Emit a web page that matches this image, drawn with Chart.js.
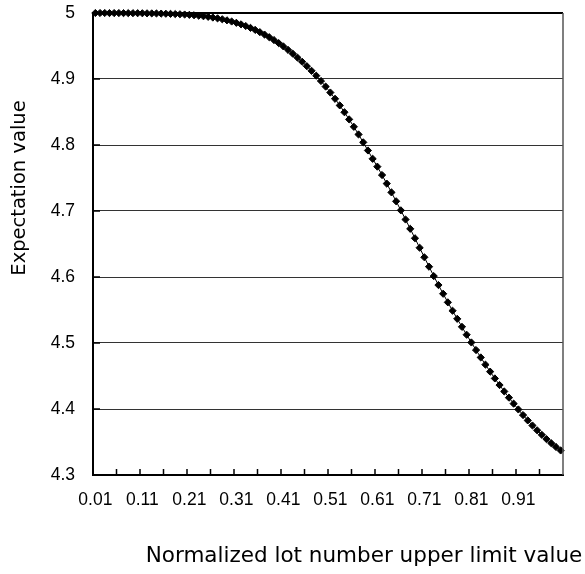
<!DOCTYPE html>
<html>
<head>
<meta charset="utf-8">
<script src="https://cdn.jsdelivr.net/npm/chart.js"></script>
<style>
  html, body { margin: 0; padding: 0; background: #fff; }
  canvas { display: block; }
</style>
</head>
<body>
<canvas id="myChart" width="585" height="574"></canvas>
<script>
const categories = [
  "0.01","0.02","0.03","0.04","0.05","0.06","0.07","0.08","0.09","0.10",
  "0.11","0.12","0.13","0.14","0.15","0.16","0.17","0.18","0.19","0.20",
  "0.21","0.22","0.23","0.24","0.25","0.26","0.27","0.28","0.29","0.30",
  "0.31","0.32","0.33","0.34","0.35","0.36","0.37","0.38","0.39","0.40",
  "0.41","0.42","0.43","0.44","0.45","0.46","0.47","0.48","0.49","0.50",
  "0.51","0.52","0.53","0.54","0.55","0.56","0.57","0.58","0.59","0.60",
  "0.61","0.62","0.63","0.64","0.65","0.66","0.67","0.68","0.69","0.70",
  "0.71","0.72","0.73","0.74","0.75","0.76","0.77","0.78","0.79","0.80",
  "0.81","0.82","0.83","0.84","0.85","0.86","0.87","0.88","0.89","0.90",
  "0.91","0.92","0.93","0.94","0.95","0.96","0.97","0.98","0.99","1.00"
];

const expectation = [
  5.0000, 5.0000, 5.0000, 4.9999, 4.9999, 4.9999, 4.9998, 4.9998, 4.9997, 4.9997,
  4.9996, 4.9995, 4.9994, 4.9993, 4.9991, 4.9989, 4.9987, 4.9984, 4.9981, 4.9977,
  4.9972, 4.9966, 4.9959, 4.9951, 4.9942, 4.9931, 4.9919, 4.9905, 4.9889, 4.9871,
  4.9851, 4.9828, 4.9803, 4.9775, 4.9744, 4.9710, 4.9673, 4.9633, 4.9590, 4.9544,
  4.9494, 4.9441, 4.9384, 4.9324, 4.9261, 4.9194, 4.9124, 4.9050, 4.8970, 4.8885,
  4.8795, 4.8700, 4.8600, 4.8496, 4.8388, 4.8276, 4.8160, 4.8040, 4.7917, 4.7791,
  4.7672, 4.7545, 4.7415, 4.7282, 4.7147, 4.7010, 4.6871, 4.6730, 4.6587, 4.6443,
  4.6299, 4.6156, 4.6014, 4.5878, 4.5746, 4.5616, 4.5489, 4.5366, 4.5245, 4.5125,
  4.5008, 4.4893, 4.4781, 4.4672, 4.4566, 4.4463, 4.4363, 4.4266, 4.4172, 4.4081,
  4.3993, 4.3908, 4.3827, 4.3750, 4.3677, 4.3608, 4.3543, 4.3482, 4.3425, 4.3372
];

const xTitle = "Normalized lot number upper limit value";
const yTitle = "Expectation value";

// inward tick marks, right border and the two axis titles
const frame = {
  id: 'frame',
  afterDraw(chart) {
    const c = chart.ctx, a = chart.chartArea;
    c.save();
    c.strokeStyle = '#555';
    c.lineWidth = 1.5;
    c.beginPath();
    c.moveTo(a.right, a.top);
    c.lineTo(a.right, a.bottom);
    c.stroke();

    c.strokeStyle = '#000';
    c.lineWidth = 1.5;
    c.beginPath();
    for (let k = 1; k < 20; k++) {
      const x = a.left + k * (a.right - a.left) / 20;
      c.moveTo(x, a.bottom);
      c.lineTo(x, a.bottom - 6);
    }
    const y = chart.scales.y;
    y.ticks.forEach(t => {
      const py = y.getPixelForValue(t.value);
      c.moveTo(a.left, py);
      c.lineTo(a.left + 7, py);
    });
    c.stroke();

    c.fillStyle = '#000';
    c.textAlign = 'center';
    c.textBaseline = 'middle';
    c.font = '21.5px "DejaVu Sans"';
    c.fillText(xTitle, (a.left + a.right) / 2 + 36, a.bottom + 81);
    c.translate(20, (a.top + a.bottom) / 2 - 56);
    c.rotate(-Math.PI / 2);
    c.font = '19.5px "DejaVu Sans"';
    c.fillText(yTitle, 0, 0);
    c.restore();
  }
};

const config = {
  type: 'line',
  data: {
    labels: categories,
    datasets: [{
      data: expectation,
      borderColor: '#000',
      borderWidth: 1,
      pointStyle: 'rectRot',
      pointRadius: 3.6,
      pointBackgroundColor: '#000',
      pointBorderColor: '#000',
      pointBorderWidth: 1,
      tension: 0,
      clip: false
    }]
  },
  options: {
    responsive: false,
    animation: false,
    layout: { padding: { left: 0, right: 22, top: 13, bottom: 0 } },
    plugins: {
      legend: { display: false },
      tooltip: { enabled: false }
    },
    scales: {
      x: {
        type: 'category',
        offset: true,
        grid: { display: false },
        border: { display: true, color: '#000', width: 2 },
        ticks: {
          autoSkip: false,
          maxRotation: 0,
          minRotation: 0,
          padding: 7,
          color: '#000',
          font: { family: '"Liberation Sans", Arial', size: 17.5 },
          callback: (v, i) => (i % 10 === 0 ? categories[i] : '')
        },
        afterFit: s => { s.height = 99; s.paddingLeft = 0; s.paddingRight = 0; }
      },
      y: {
        min: 4.3,
        max: 5,
        grid: {
          drawTicks: false,
          color: c => (c.tick && Math.abs(c.tick.value - 5) < 1e-6 ? '#000' : '#333'),
          lineWidth: c => (c.tick && Math.abs(c.tick.value - 5) < 1e-6 ? 2 : 1)
        },
        border: { display: true, color: '#000', width: 2 },
        ticks: {
          stepSize: 0.1,
          padding: 18,
          color: '#000',
          font: { family: '"Liberation Sans", Arial', size: 17.5 },
          callback: v => String(+v.toFixed(1))
        },
        afterFit: s => { s.width = 93; s.paddingTop = 0; s.paddingBottom = 0; }
      }
    }
  },
  plugins: [frame]
};

const myChart = new Chart(document.getElementById('myChart'), config);
</script>
</body>
</html>
